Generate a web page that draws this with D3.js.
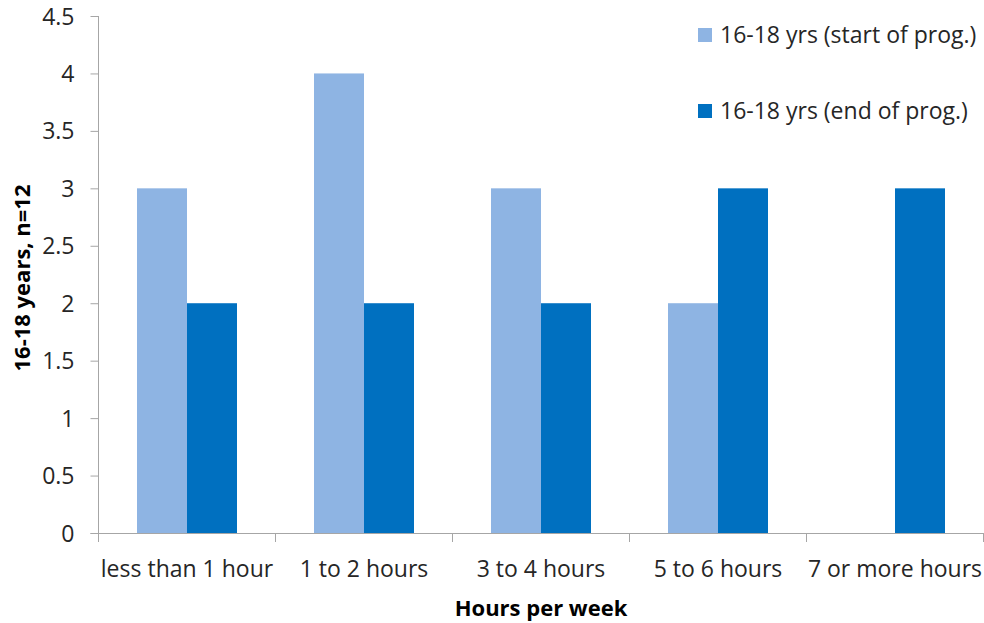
<!DOCTYPE html>
<html>
<head>
<meta charset="utf-8">
<script src="https://cdn.jsdelivr.net/npm/d3@7/dist/d3.min.js"></script>
<style>
  html, body { margin: 0; padding: 0; background: #fff; }
  svg { display: block; font-family: "Open Sans", "Noto Sans", sans-serif; }
</style>
</head>
<body>
<svg id="chart" width="984" height="623"></svg>
<script>
// Hours per week, 16-18 year olds (n=12)
const categories = ["less than 1 hour", "1 to 2 hours", "3 to 4 hours", "5 to 6 hours", "7 or more hours"];
const seriesNames = ["16-18 yrs (start of prog.)", "16-18 yrs (end of prog.)"];
const startValues = [3, 4, 3, 2, 0];
const endValues = [2, 2, 2, 3, 3];
const yTicks = [0, 0.5, 1, 1.5, 2, 2.5, 3, 3.5, 4, 4.5];
const colors = ["#8EB4E3", "#0070C0"];

const svg = d3.select("#chart");
const margin = { left: 98.5, right: 983.5, top: 16, bottom: 533 };
const axisColor = "#A6A6A6";
const textColor = "#262626";
const labelSize = "23px";

const x0 = d3.scaleBand().domain(categories).range([margin.left, margin.right]).paddingInner(0).paddingOuter(0);
const x1 = d3.scaleBand().domain(seriesNames).range([0, x0.bandwidth()]).paddingInner(0).paddingOuter(0.77);
const y = d3.scaleLinear().domain([0, 4.5]).range([margin.bottom, margin.top]);

const rows = categories.map((c, i) => ({ cat: c, vals: [startValues[i], endValues[i]] }));

// bars
const g = svg.append("g");
rows.forEach(r => {
  r.vals.forEach((v, j) => {
    if (v <= 0) return;
    g.append("rect")
      .attr("x", x0(r.cat) + x1(seriesNames[j]))
      .attr("y", y(v))
      .attr("width", x1.bandwidth())
      .attr("height", y(0) - y(v))
      .attr("fill", colors[j]);
  });
});

// y axis
const yAxis = d3.axisLeft(y).tickValues(yTicks).tickSize(8).tickPadding(16)
  .tickFormat(d => d3.format("")(d));
const yg = svg.append("g").attr("transform", `translate(${margin.left},0)`).call(yAxis);
yg.select(".domain").attr("stroke", axisColor).attr("d", `M0,${margin.top}V${margin.bottom}`);
yg.selectAll(".tick line").attr("stroke", axisColor);
yg.selectAll(".tick text").attr("fill", textColor).style("font-size", labelSize)
  .attr("font-family", "'Open Sans', sans-serif").attr("dy", "0.35em");

// x axis: baseline plus category boundary ticks
const xg = svg.append("g");
xg.append("line").attr("x1", margin.left - 8).attr("x2", margin.right)
  .attr("y1", y(0) + 0.5).attr("y2", y(0) + 0.5).attr("stroke", axisColor);
const bounds = categories.map(c => x0(c)).concat([x0.range()[1]]);
xg.selectAll("line.b").data(bounds).join("line").attr("class", "b")
  .attr("x1", d => d).attr("x2", d => d)
  .attr("y1", y(0)).attr("y2", y(0) + 9).attr("stroke", axisColor);
xg.selectAll("text.cat").data(categories).join("text").attr("class", "cat")
  .attr("x", d => x0(d) + x0.bandwidth() / 2)
  .attr("y", 569).attr("dy", "0.35em")
  .attr("text-anchor", "middle").attr("fill", textColor)
  .style("font-size", labelSize).text(d => d);

// axis titles
svg.append("text").attr("x", (margin.left + margin.right) / 2).attr("y", 608).attr("dy", "0.35em")
  .attr("text-anchor", "middle").attr("font-weight", "bold").attr("fill", "#000")
  .style("font-size", "22px").text("Hours per week");
svg.append("text").attr("transform", `translate(22,278) rotate(-90)`)
  .attr("dy", "0.35em").attr("text-anchor", "middle").attr("font-weight", "bold").attr("fill", "#000")
  .style("font-size", "22px").text("16-18 years, n=12");

// legend
const legend = svg.append("g");
[35, 111].forEach((cy, j) => {
  legend.append("rect").attr("x", 698).attr("y", cy - 7).attr("width", 14).attr("height", 14).attr("fill", colors[j]);
  legend.append("text").attr("x", 720).attr("y", cy).attr("dy", "0.35em").attr("fill", textColor)
    .style("font-size", labelSize).text(seriesNames[j]);
});
</script>
</body>
</html>
